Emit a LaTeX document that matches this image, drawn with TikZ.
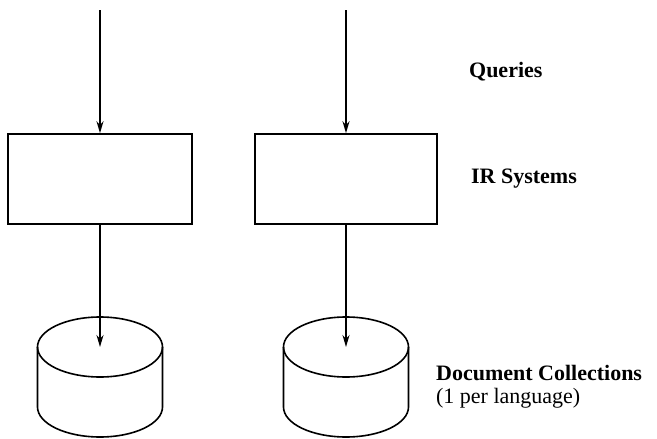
\documentclass[tikz,border=0pt]{standalone}
\usepackage{fontspec}
\setmainfont{Liberation Serif}
\usetikzlibrary{arrows.meta}

\begin{document}
\begin{tikzpicture}[x=1pt,y=-1pt,line width=1.6pt,
    sysbox/.style={draw,minimum width=#1,minimum height=90pt},
    feed/.style={-{Stealth[length=12pt,width=7pt]}},
    lbl/.style={anchor=west,font=\fontsize{22}{23}\selectfont,align=left}]
  \useasboundingbox (0,0) rectangle (657,439);
  \foreach \n/\x/\w in {1/100/184pt,2/346/182pt}{
    \coordinate (in\n) at (\x,10);
    \node[sysbox=\w] (sys\n) at (\x,179) {};
    % collection store: lid ellipse plus body
    \coordinate (lid\n) at (\x,347);
    \draw (lid\n) ellipse [x radius=62.5pt,y radius=30pt];
    \draw ([xshift=-62.5pt]lid\n) -- ++(0,60)
      arc[start angle=180,end angle=360,x radius=62.5pt,y radius=30pt] -- ++(0,-60);
    \draw[feed] (in\n) -- (sys\n.north);
    \draw[feed] (sys\n.south) -- (lid\n);
  }
  \node[lbl] (lblq) at (465,72) {\textbf{Queries}};
  \node[lbl] (lblir) at (467,179) {\textbf{IR Systems}};
  \node[lbl] (lbldb) at (432,387) {\textbf{Document Collections}\\(1 per language)};
\end{tikzpicture}
\end{document}
